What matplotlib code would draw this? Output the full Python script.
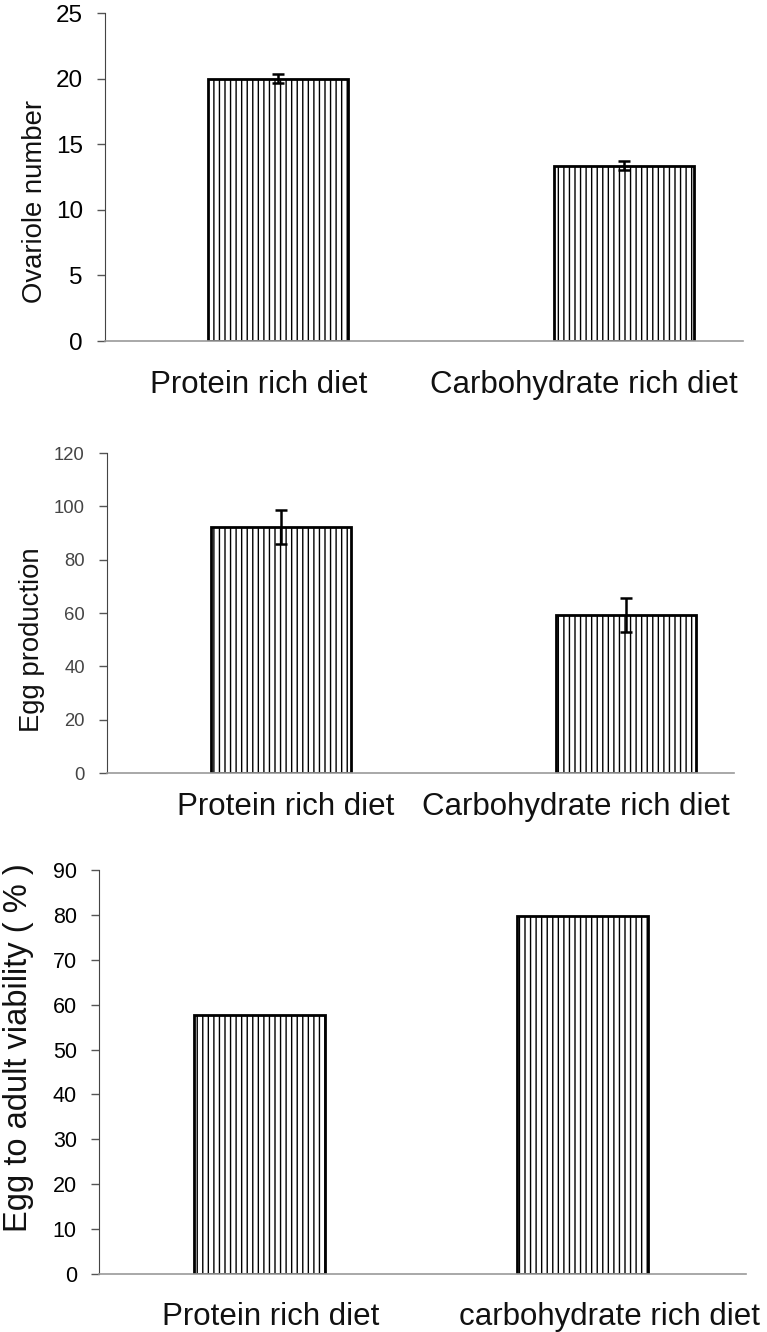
import numpy as np
import matplotlib
matplotlib.use('Agg')
import matplotlib.pyplot as plt

plt.rcParams['font.family'] = ['Liberation Sans', 'DejaVu Sans']
plt.rcParams['hatch.linewidth'] = 1.0

# data
diets_1 = ['Protein rich diet', 'Carbohydrate rich diet']
ovariole = [20.0, 13.35]
ovariole_err = [0.35, 0.35]

diets_2 = ['Protein rich diet', 'Carbohydrate rich diet']
eggs = [92.2, 59.1]
eggs_err = [6.5, 6.4]

diets_3 = ['Protein rich diet', 'carbohydrate rich diet']
viability = [57.6, 79.7]

W, H = 767, 1332
fig = plt.figure(figsize=(W / 100, H / 100), dpi=100)


def box(l, r, t, b):
    return [l / W, 1 - b / H, (r - l) / W, (b - t) / H]


def panel(rect, cats, vals, err, ymax, ystep, ylabel, bar_x, bar_w, lab_x,
          lab_pad, tick_size, tick_color, ylab_size, ylab_xy):
    ax = fig.add_axes(rect)
    ax.bar(bar_x, vals, width=bar_w, color='white', edgecolor='black',
           linewidth=2, hatch='|||', zorder=2)
    if err is not None:
        ax.errorbar(bar_x, vals, yerr=err, fmt='none', ecolor='black',
                    elinewidth=1.8, capsize=4.5, capthick=1.8, zorder=3)
    ax.set_xlim(0, 2)
    ax.set_ylim(0, ymax)
    ax.set_yticks(np.arange(0, ymax + 0.1, ystep))
    ax.set_xticks(lab_x)
    ax.set_xticklabels(cats, fontsize=22.5, color='#111111')
    ax.tick_params(axis='x', length=0, pad=lab_pad)
    ax.tick_params(axis='y', length=6, width=1, color='#555555',
                   labelsize=tick_size, labelcolor=tick_color, pad=10)
    for s in ['top', 'right']:
        ax.spines[s].set_visible(False)
    ax.spines['left'].set_color('#444444')
    ax.spines['bottom'].set_color('#999999')
    ax.spines['bottom'].set_linewidth(1.2)
    ax.set_ylabel(ylabel, fontsize=ylab_size, color='#111111')
    ax.yaxis.label.set_va('center')
    ax.yaxis.set_label_coords(*ylab_xy)
    return ax


# panel 1
panel(box(105, 743, 13, 341), diets_1, ovariole, ovariole_err, 25, 5,
      'Ovariole number', [0.542, 1.627], 0.44, [0.481, 1.50], 21,
      17.5, '#000000', 19.8, (-0.11, 0.424))

# panel 2
panel(box(107, 734, 453, 773), diets_2, eggs, eggs_err, 120, 20,
      'Egg production', [0.555, 1.656], 0.447, [0.569, 1.496], 13.7,
      13.3, '#444444', 19.8, (-0.119, 0.416))

# panel 3
panel(box(99, 746, 870, 1274), diets_3, viability, None, 90, 10,
      'Egg to adult viability ( % )', [0.496, 1.496], 0.405, [0.532, 1.578],
      20, 15.5, '#000000', 23.5, (-0.124, 0.56))

plt.savefig('out.png', dpi=100)
